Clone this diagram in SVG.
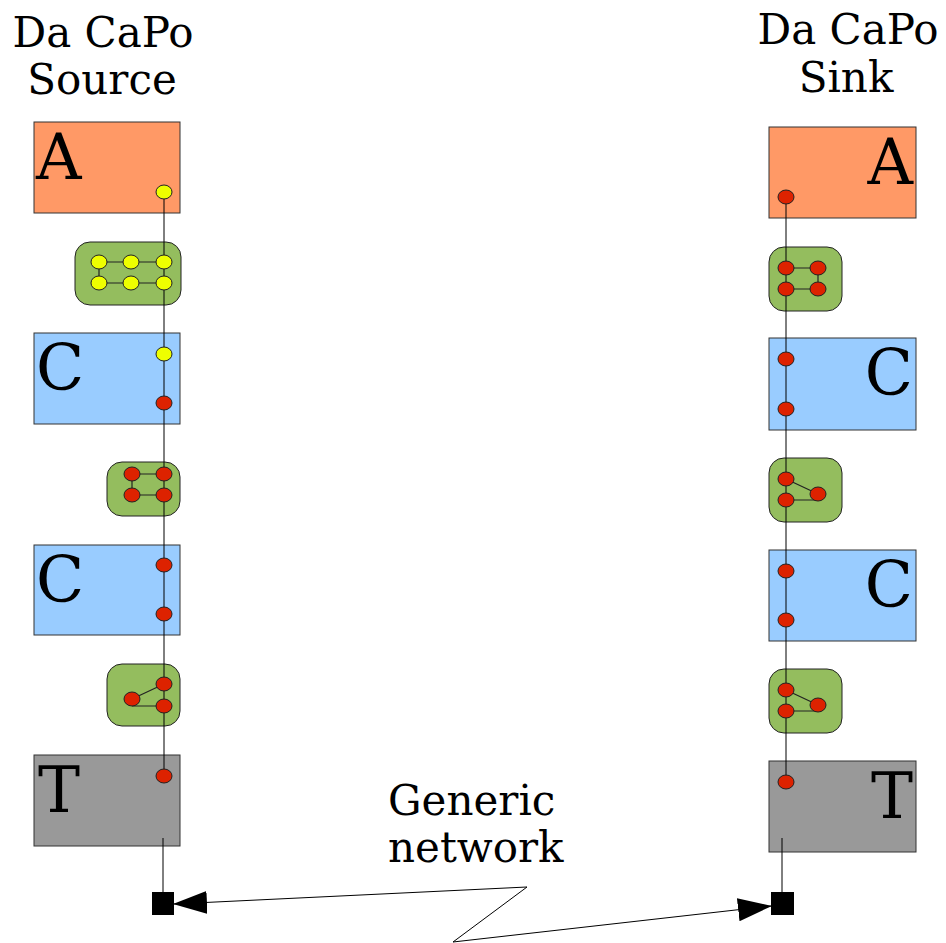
<svg xmlns="http://www.w3.org/2000/svg" width="946" height="943" viewBox="0 0 946 943">
<defs>
<style>
.t{font-family:"DejaVu Serif","Liberation Serif",serif;fill:#000}
.title{font-size:42px;text-anchor:middle}
.big{font-size:63px}
.end{text-anchor:end}
.box{stroke:#333;stroke-width:1}
.a{fill:#ff9966}
.c{fill:#99ccff}
.tt{fill:#999999}
.g{fill:#94bd5e;stroke:#222;stroke-width:1}
.y{fill:#eeff00;stroke:#222;stroke-width:1}
.r{fill:#dd2200;stroke:#222;stroke-width:1}
.ln{stroke:#222;stroke-width:1.2;fill:none}
.wire{stroke:#000;stroke-width:1;fill:none}
</style>
<marker id="ah" markerUnits="userSpaceOnUse" markerWidth="34" markerHeight="24" refX="33" refY="11.5" orient="auto-start-reverse">
<path d="M0,0 L34,11.5 L0,23 z" fill="#000"/>
</marker>
</defs>
<rect width="946" height="943" fill="#fff"/>

<g id="titles">
<text class="t title" x="103" y="47">Da CaPo</text>
<text class="t title" x="102" y="94">Source</text>
<text class="t title" x="848" y="44">Da CaPo</text>
<text class="t title" x="846" y="92">Sink</text>
</g>

<g id="src-A"><rect class="box a" x="34" y="122" width="146" height="91"/><text class="t big" x="36" y="179">A</text></g>
<g id="src-C1"><rect class="box c" x="34" y="333" width="146" height="91"/><text class="t big" x="36" y="390">C</text></g>
<g id="src-C2"><rect class="box c" x="34" y="545" width="146" height="90"/><text class="t big" x="36" y="602">C</text></g>
<g id="src-T"><rect class="box tt" x="34" y="755" width="146" height="91"/><text class="t big" x="38" y="812">T</text></g>

<g id="snk-A"><rect class="box a" x="769" y="127" width="147" height="91"/><text class="t big end" x="913" y="184">A</text></g>
<g id="snk-C1"><rect class="box c" x="769" y="338" width="147" height="92"/><text class="t big end" x="913" y="395">C</text></g>
<g id="snk-C2"><rect class="box c" x="769" y="550" width="147" height="91"/><text class="t big end" x="913" y="607">C</text></g>
<g id="snk-T"><rect class="box tt" x="769" y="761" width="147" height="91"/><text class="t big end" x="913" y="818">T</text></g>

<g id="src-G1"><rect class="g" x="75" y="242" width="106" height="63" rx="15"/></g>
<g id="src-G2"><rect class="g" x="107" y="462" width="73" height="54" rx="15"/></g>
<g id="src-G3"><rect class="g" x="107" y="664" width="73" height="62" rx="15"/></g>
<g id="snk-G1"><rect class="g" x="769" y="247" width="73" height="64" rx="15"/></g>
<g id="snk-G2"><rect class="g" x="769" y="458" width="73" height="64" rx="15"/></g>
<g id="snk-G3"><rect class="g" x="769" y="669" width="73" height="64" rx="15"/></g>

<g id="connectors">
<line class="wire" x1="164" y1="192" x2="164" y2="776"/>
<line class="wire" x1="786" y1="197" x2="786" y2="782"/>
<line class="wire" x1="163" y1="838" x2="163" y2="893"/>
<line class="wire" x1="782" y1="838" x2="782" y2="892"/>
<path class="ln" d="M99,262H164M99,283H164M99,262V283"/>
<path class="ln" d="M132,474H164M132,495H164M132,474V495"/>
<path class="ln" d="M132,699L164,684M132,706H164"/>
<path class="ln" d="M786,268H818M786,289H818M818,268V289"/>
<path class="ln" d="M786,479L818,494M786,500H818"/>
<path class="ln" d="M786,690L818,705M786,711H818"/>
<polyline class="wire" points="174,904 527,887 453,942 771,906" marker-start="url(#ah)" marker-end="url(#ah)"/>
</g>

<g id="src-ports">
<ellipse class="y" cx="164" cy="192" rx="8" ry="7"/>
<ellipse class="y" cx="99" cy="262" rx="8" ry="7"/>
<ellipse class="y" cx="131" cy="262" rx="8" ry="7"/>
<ellipse class="y" cx="164" cy="262" rx="8" ry="7"/>
<ellipse class="y" cx="99" cy="283" rx="8" ry="7"/>
<ellipse class="y" cx="131" cy="283" rx="8" ry="7"/>
<ellipse class="y" cx="164" cy="283" rx="8" ry="7"/>
<ellipse class="y" cx="164" cy="354" rx="8" ry="7"/>
<ellipse class="r" cx="164" cy="403" rx="8" ry="7"/>
<ellipse class="r" cx="132" cy="474" rx="8" ry="7"/>
<ellipse class="r" cx="164" cy="474" rx="8" ry="7"/>
<ellipse class="r" cx="132" cy="495" rx="8" ry="7"/>
<ellipse class="r" cx="164" cy="495" rx="8" ry="7"/>
<ellipse class="r" cx="164" cy="565" rx="8" ry="7"/>
<ellipse class="r" cx="164" cy="614" rx="8" ry="7"/>
<ellipse class="r" cx="164" cy="684" rx="8" ry="7"/>
<ellipse class="r" cx="132" cy="699" rx="8" ry="7"/>
<ellipse class="r" cx="164" cy="706" rx="8" ry="7"/>
<ellipse class="r" cx="164" cy="776" rx="8" ry="7"/>
<rect x="152" y="892" width="22" height="23" fill="#000"/>
</g>

<g id="snk-ports">
<ellipse class="r" cx="786" cy="197" rx="8" ry="7"/>
<ellipse class="r" cx="786" cy="268" rx="8" ry="7"/>
<ellipse class="r" cx="818" cy="268" rx="8" ry="7"/>
<ellipse class="r" cx="786" cy="289" rx="8" ry="7"/>
<ellipse class="r" cx="818" cy="289" rx="8" ry="7"/>
<ellipse class="r" cx="786" cy="359" rx="8" ry="7"/>
<ellipse class="r" cx="786" cy="409" rx="8" ry="7"/>
<ellipse class="r" cx="786" cy="479" rx="8" ry="7"/>
<ellipse class="r" cx="818" cy="494" rx="8" ry="7"/>
<ellipse class="r" cx="786" cy="500" rx="8" ry="7"/>
<ellipse class="r" cx="786" cy="571" rx="8" ry="7"/>
<ellipse class="r" cx="786" cy="620" rx="8" ry="7"/>
<ellipse class="r" cx="786" cy="690" rx="8" ry="7"/>
<ellipse class="r" cx="818" cy="705" rx="8" ry="7"/>
<ellipse class="r" cx="786" cy="711" rx="8" ry="7"/>
<ellipse class="r" cx="786" cy="782" rx="8" ry="7"/>
<rect x="771" y="892" width="23" height="23" fill="#000"/>
</g>

<g id="network-label">
<text class="t" font-size="42" x="388" y="815">Generic</text>
<text class="t" font-size="42" x="388" y="862">network</text>
</g>
</svg>
